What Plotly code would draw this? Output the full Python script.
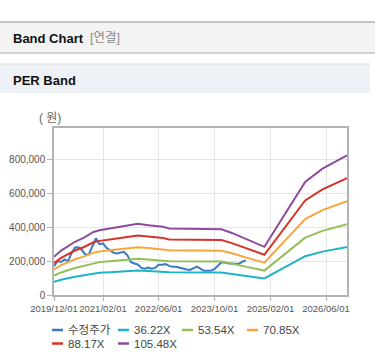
import plotly.graph_objects as go
import pandas as pd

# ---- data ----
price_dates = pd.date_range("2019-12-01", "2024-07-01", freq="MS").strftime("%Y-%m-%d").tolist()
price = [170000, 200000, 195000, 210000, 200000, 245000, 280000, 282000, 265000, 238000,
         240000, 290000, 335000, 300000, 304000, 280000, 262000, 250000, 245000, 252000,
         255000, 235000, 195000, 186000, 180000, 160000, 155000, 162000, 155000, 160000,
         178000, 178000, 182000, 172000, 166000, 166000, 160000, 153000, 150000, 148000,
         157000, 168000, 156000, 143000, 143000, 145000, 152000, 175000, 193000, 192000,
         186000, 186000, 186000, 183000, 196000, 204000]

band_dates = ["2019-12-01", "2020-02-01", "2020-06-01", "2020-08-15", "2020-11-10",
              "2021-01-01", "2021-04-01", "2021-10-01", "2021-12-01", "2022-03-01",
              "2022-07-10", "2022-09-01", "2023-12-01", "2024-03-01", "2024-07-20",
              "2024-12-10", "2025-12-01", "2026-05-01", "2026-12-01"]
eps = [2133, 2484, 2977, 3195, 3527, 3622, 3716, 3887, 3982, 3906,
       3811, 3716, 3678, 3470, 3072, 2692, 6323, 7063, 7812]
multiples = [36.22, 53.54, 70.85, 88.17, 105.48]
band_names = ["36.22X", "53.54X", "70.85X", "88.17X", "105.48X"]
price_name = "수정주가"

y_ticks = [0, 200000, 400000, 600000, 800000]
x_ticks = ["2019-12-01", "2021-02-01", "2022-06-01", "2023-10-01", "2025-02-01", "2026-06-01"]
x_tick_labels = ["2019/12/01", "2021/02/01", "2022/06/01", "2023/10/01", "2025/02/01", "2026/06/01"]

price_color = "#3b78c3"
band_colors = ["#1fb3c7", "#93bf53", "#f6a63a", "#d6332b", "#8d4c9d"]

W, H = 375, 364
L, R, T, B = 54, 347, 128, 295

fig = go.Figure()
fig.add_trace(go.Scatter(x=price_dates, y=price, mode="lines", name=price_name,
                         line=dict(color=price_color, width=2)))
for m, nm, c in zip(multiples, band_names, band_colors):
    fig.add_trace(go.Scatter(x=band_dates, y=[e * m for e in eps], mode="lines", name=nm,
                             line=dict(color=c, width=2)))


def px(x):
    return (x - L) / (R - L)


def py(y):
    return (B - y) / (B - T)


shapes = [
    # header bar
    dict(type="rect", xref="paper", yref="paper", x0=px(0), x1=px(W), y0=py(53), y1=py(22),
         fillcolor="#f3f3f3", line=dict(width=0), layer="below"),
    dict(type="line", xref="paper", yref="paper", x0=px(0), x1=px(W), y0=py(22), y1=py(22),
         line=dict(color="#b3b3b3", width=1.5)),
    dict(type="line", xref="paper", yref="paper", x0=px(0), x1=px(W), y0=py(53), y1=py(53),
         line=dict(color="#c4c4c4", width=1.5)),
    # PER band bar
    dict(type="rect", xref="paper", yref="paper", x0=px(0), x1=px(370), y0=py(93), y1=py(64),
         fillcolor="#eef2f7", line=dict(width=0), layer="below"),
    dict(type="line", xref="paper", yref="paper", x0=px(0), x1=px(370), y0=py(64), y1=py(64),
         line=dict(color="#dadada", width=1)),
]

annotations = [
    dict(text="<b>Band Chart</b>", x=px(11), y=py(38), xref="paper", yref="paper",
         xanchor="left", yanchor="middle", showarrow=False,
         font=dict(size=13, color="#111111", family="Liberation Sans, Noto Sans CJK KR")),
    dict(text="[연결]", x=px(88), y=py(38), xref="paper", yref="paper",
         xanchor="left", yanchor="middle", showarrow=False,
         font=dict(size=12.5, color="#8a8a8a", family="Liberation Sans, Noto Sans CJK KR")),
    dict(text="<b>PER Band</b>", x=px(11), y=py(80), xref="paper", yref="paper",
         xanchor="left", yanchor="middle", showarrow=False,
         font=dict(size=13, color="#111111", family="Liberation Sans, Noto Sans CJK KR")),
    dict(text="( 원)", x=px(50), y=py(118), xref="paper", yref="paper",
         xanchor="center", yanchor="middle", showarrow=False,
         font=dict(size=12, color="#666666", family="Liberation Sans, Noto Sans CJK KR")),
]

# custom legend (short line symbols)
legend_names = [price_name] + band_names
legend_colors = [price_color] + band_colors
legend_pos = [(52, 330), (118, 330), (182, 330), (247, 330), (52, 343.5), (118, 343.5)]
for nm, c, (lx, ly) in zip(legend_names, legend_colors, legend_pos):
    shapes.append(dict(type="line", xref="paper", yref="paper", x0=px(lx), x1=px(lx + 11),
                       y0=py(ly), y1=py(ly), line=dict(color=c, width=2.5)))
    annotations.append(dict(text=nm, x=px(lx + 13.5), y=py(ly), xref="paper", yref="paper",
                            xanchor="left", yanchor="middle", showarrow=False,
                            font=dict(size=11.5, color="#444444",
                                      family="Liberation Sans, Noto Sans CJK KR")))

x_font = dict(size=9.5, color="#555555", family="Liberation Sans, Arial, sans-serif")
y_font = dict(size=10, color="#555555", family="Liberation Sans, Arial, sans-serif")

fig.update_layout(
    width=W, height=H,
    margin=dict(l=L, r=W - R, t=T, b=H - B, pad=0, autoexpand=False),
    paper_bgcolor="white", plot_bgcolor="white",
    showlegend=False, hovermode=False,
    shapes=shapes, annotations=annotations,
    xaxis=dict(type="date", range=["2019-12-01", "2026-12-01"], automargin=False,
               tickvals=x_ticks, ticktext=x_tick_labels, tickfont=x_font, tickangle=0,
               showgrid=True, gridcolor="#e6e6e6", gridwidth=1,
               showline=True, linecolor="#b3b3b3", linewidth=1.5, mirror=True,
               ticks="outside", ticklen=4, tickcolor="#b3b3b3", zeroline=False),
    yaxis=dict(range=[0, 985000], tickvals=y_ticks, tickformat=",d", tickfont=y_font,
               automargin=False,
               showgrid=True, gridcolor="#e6e6e6", gridwidth=1,
               showline=True, linecolor="#b3b3b3", linewidth=1.5, mirror=True,
               ticks="outside", ticklen=5, tickcolor="#b3b3b3", zeroline=False),
)

fig.write_html("out.html", config={"displayModeBar": False},
               post_script="document.body.style.margin='0';")
